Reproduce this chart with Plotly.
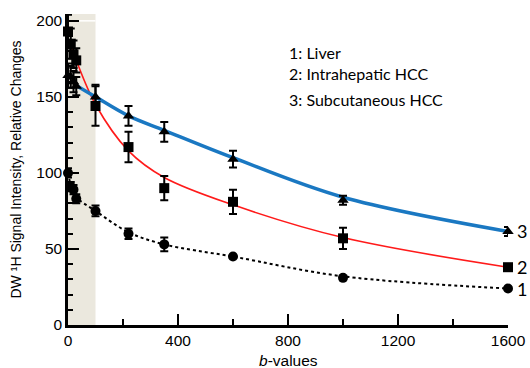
import plotly.graph_objects as go

# ---- data ----
b_values = [0, 10, 20, 30, 100, 220, 350, 600, 1000, 1600]

liver = [100, 91, 89, 83, 75, 60, 53, 45, 31, 24]
liver_err = [3, 3, 3, 3, 3.5, 3.5, 4.5, 0, 0, 0]

intra_hcc = [193, 185, 178, 174, 144, 117, 90, 81, 57, 38]
intra_err = [11, 10, 9, 8, 13, 10, 8, 8, 7, 0]

subcut_hcc = [164, 163, 160, 157, 150, 137.5, 127, 109, 82, 61.5]
subcut_err = [8, 7, 7, 6, 8, 6.5, 6.5, 5.5, 3, 3]

# fitted curves
fit_b_liver = [0, 10, 20, 30, 100, 220, 350, 600, 1000, 1600]
fit_liver = [100, 92, 88, 84, 75, 61, 53, 45, 32, 24]
fit_b_intra = [10, 20, 30, 100, 220, 350, 600, 1000, 1600]
fit_intra = [186, 179, 174, 145, 114.5, 97, 79, 57.5, 38]
fit_b_subcut = [30, 100, 220, 350, 600, 1000, 1600]
fit_subcut = [157.5, 150, 137.5, 128, 110, 84, 61.5]

legend_lines = ["1: Liver", "2: Intrahepatic HCC", "3: Subcutaneous HCC"]
end_labels = ["1", "2", "3"]
end_values = [24, 38, 61.5]

fig = go.Figure()

# shaded low-b region
fig.add_shape(type="rect", xref="x", yref="y", x0=0, x1=100, y0=0, y1=205,
              fillcolor="#ebe8de", line=dict(width=0), layer="below")
fig.add_shape(type="line", xref="x", yref="y", x0=0, x1=100, y0=200, y1=200,
              line=dict(color="white", width=1.5), layer="below")

# fitted lines
fig.add_trace(go.Scatter(x=fit_b_liver, y=fit_liver, mode="lines",
                         line=dict(color="black", width=2, dash="dot", shape="spline"),
                         hoverinfo="skip", showlegend=False))
fig.add_trace(go.Scatter(x=fit_b_intra, y=fit_intra, mode="lines",
                         line=dict(color="#ff1a1a", width=1.6, shape="spline"),
                         hoverinfo="skip", showlegend=False))
fig.add_trace(go.Scatter(x=fit_b_subcut, y=fit_subcut, mode="lines",
                         line=dict(color="#1a78c2", width=3.5, shape="spline"),
                         hoverinfo="skip", showlegend=False))

# data points with error bars
def pts(y, err, symbol):
    return go.Scatter(x=b_values, y=y, mode="markers", cliponaxis=False,
                      marker=dict(symbol=symbol, size=10, color="black"),
                      error_y=dict(type="data", array=err, color="black",
                                   thickness=2, width=4),
                      showlegend=False)

fig.add_trace(pts(liver, liver_err, "circle"))
fig.add_trace(pts(intra_hcc, intra_err, "square"))
fig.add_trace(pts(subcut_hcc, subcut_err, "triangle-up"))

# legend text
for i, t in enumerate(legend_lines):
    fig.add_annotation(xref="paper", yref="paper", x=(287 - 68) / 440,
                       y=[(325 - 52.5), (325 - 73.5), (325 - 99.5)][i] / 311,
                       text=t, showarrow=False, xanchor="left", yanchor="middle",
                       font=dict(family="Lato", size=16, color="black"))

# end labels
for lab, v in zip(end_labels, end_values):
    fig.add_annotation(x=1600, y=v, text=lab, showarrow=False, xanchor="left",
                       xshift=7, yanchor="middle",
                       font=dict(family="Lato", size=18, color="black"))

# axis titles
fig.add_annotation(xref="paper", yref="paper", x=(15 - 68) / 440, y=0.5,
                   text="DW \u00b9H Signal Intensity, Relative Changes",
                   textangle=-90, showarrow=False, xanchor="center", yanchor="middle",
                   font=dict(family="Liberation Sans", size=14, color="black"))
fig.add_annotation(xref="paper", yref="paper", x=0.5, y=-(360 - 325) / 311,
                   text="<i>b</i>-values", showarrow=False,
                   xanchor="center", yanchor="middle",
                   font=dict(family="Liberation Sans", size=15.5, color="black"))

fig.update_layout(
    width=530, height=368,
    margin=dict(l=68, r=22, t=14, b=43, autoexpand=False),
    plot_bgcolor="white", paper_bgcolor="white",
    showlegend=False,
    font=dict(family="Liberation Sans", size=14, color="black"),
)
fig.update_xaxes(range=[0, 1600], tickvals=[0, 400, 800, 1200, 1600],
                 ticks="inside", ticklen=11, tickwidth=2, tickcolor="black",
                 minor=dict(ticks="inside", ticklen=6, tickwidth=2, dtick=200,
                            tickcolor="black", showgrid=False),
                 showline=True, linecolor="black", linewidth=2.5,
                 showgrid=False, zeroline=False, automargin=False,
                 tickfont=dict(size=15.5))
fig.update_yaxes(range=[0, 204.5], tickvals=[0, 50, 100, 150, 200],
                 ticks="inside", ticklen=11, tickwidth=2, tickcolor="black",
                 minor=dict(ticks="inside", ticklen=5, tickwidth=2, dtick=10,
                            tickcolor="black", showgrid=False),
                 showline=True, linecolor="black", linewidth=2.5,
                 showgrid=False, zeroline=False, automargin=False,
                 tickfont=dict(size=15.5))

# remove the default page margin so the figure fills the 530x368 window
fig.write_html("out.html",
               config={"displayModeBar": False},
               post_script="document.body.style.margin='0';"
                           "document.body.style.overflow='hidden';")
